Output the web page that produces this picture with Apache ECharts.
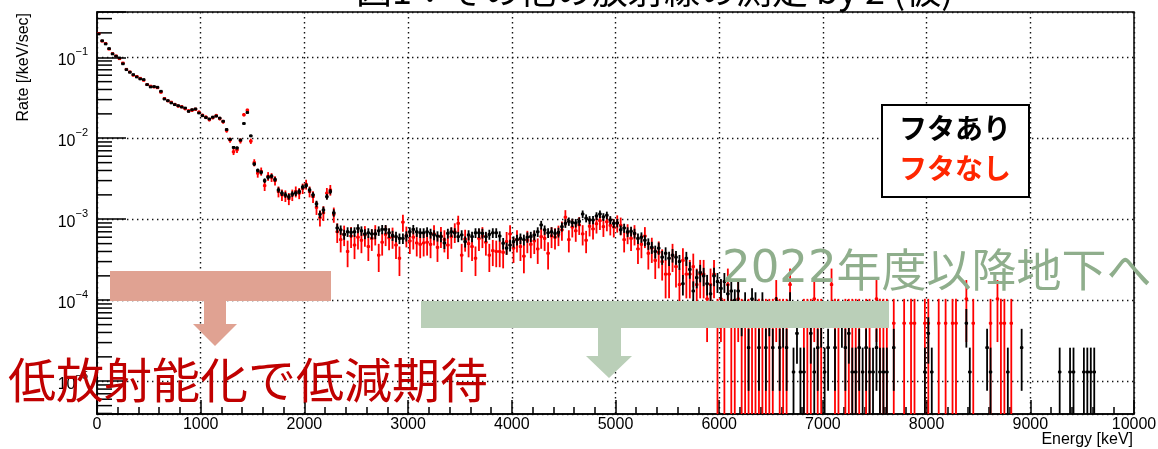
<!DOCTYPE html>
<html><head><meta charset="utf-8">
<script src="https://cdn.jsdelivr.net/npm/echarts@6/dist/echarts.min.js"></script>
<style>html,body{margin:0;padding:0;background:#fff}#c{width:1158px;height:449px}</style>
</head><body><div id="c"></div>
<script>
// ---------------- data ----------------
const BIN_WIDTH = 10000 / 300;          // keV per bin
const X_MIN = 0, X_MAX = 10000, X_STEP = 1000;
const Y_MIN = 3.94e-6, Y_MAX = 0.362;
const Y_LABEL_EXPONENTS = [-5, -4, -3, -2, -1];
const Y_MINOR_MULTIPLIERS = [2, 3, 4, 5, 6, 7, 8, 9];
const Y_MINOR_DECADES = [-6, -5, -4, -3, -2, -1];
const SERIES_NAMES = ['フタあり', 'フタなし'];
const UNIT_WITH_LID = 1.3e-5;     // rate of one count per bin
const UNIT_WITHOUT_LID = 5.2e-5;

// rate per 33.3 keV bin (null = empty bin)
const withLid = [
0.194,0.160,0.146,0.128,0.110,0.103,0.098,0.083,0.0703,0.0653,
0.061,0.0571,0.054,0.053,0.0459,0.043,0.0434,0.0426,0.038,0.0305,
0.0291,0.0273,0.026,0.0252,0.0243,0.0236,0.0215,0.0225,0.023,0.0205,
0.019,0.018,0.0173,0.0182,0.0188,0.0177,0.0162,0.0128,0.0097,0.0077,
0.0076,0.0095,0.0152,0.0208,0.0107,0.0048,0.0040,0.0038,0.0030,0.0033,
0.0034,0.0031,0.0023,0.0021,0.0020,0.0019,0.00205,0.0021,0.0022,0.0025,
0.0026,0.0023,0.0020,0.00155,0.00115,0.0013,0.0019,0.0022,0.0012,7.8e-4,
7.4e-4,6.5e-4,7.0e-4,6.9e-4,7.0e-4,7.7e-4,7.2e-4,6.6e-4,6.8e-4,6.6e-4,
6.6e-4,7.2e-4,7.5e-4,7.5e-4,6.8e-4,6.3e-4,6.1e-4,5.8e-4,5.8e-4,6.2e-4,
7.0e-4,7.5e-4,7.0e-4,6.8e-4,6.8e-4,7.0e-4,6.7e-4,6.4e-4,6.2e-4,6.1e-4,
5.1e-4,6.7e-4,7.0e-4,6.8e-4,6.1e-4,6.4e-4,5.3e-4,6.4e-4,6.1e-4,6.8e-4,
6.8e-4,6.7e-4,6.1e-4,6.5e-4,6.8e-4,6.8e-4,6.2e-4,5.05e-4,4.4e-4,4.8e-4,
5.3e-4,5.6e-4,5.8e-4,5.6e-4,6.0e-4,6.1e-4,6.4e-4,7.0e-4,8.5e-4,7.4e-4,
6.8e-4,7.0e-4,6.7e-4,6.9e-4,8.1e-4,8.9e-4,9.4e-4,9.1e-4,9.0e-4,9.4e-4,
1.16e-3,1.03e-3,9.8e-4,9.8e-4,1.1e-3,1.16e-3,1.07e-3,1.12e-3,9.8e-4,8.9e-4,
9.0e-4,7.4e-4,7.8e-4,7.0e-4,7.1e-4,6.7e-4,5.8e-4,6.0e-4,5.5e-4,5.0e-4,
4.5e-4,4.0e-4,4.4e-4,3.4e-4,3.8e-4,3.3e-4,3.6e-4,3.4e-4,3.0e-4,1.6e-4,
3.3e-4,2.4e-4,1.3e-4,1.9e-4,2.2e-4,2.0e-4,1.6e-4,1.2e-4,2.0e-4,1.7e-4,
1.4e-4,1.7e-4,1.2e-4,1.3e-4,1.0e-4,1.3e-4,6.5e-5,9.1e-5,2.6e-5,1.04e-4,
9.1e-5,2.6e-5,9.1e-5,2.6e-5,6.5e-5,2.6e-5,7.8e-5,2.6e-5,5.2e-5,2.6e-5,
9.1e-5,1.3e-5,3.9e-5,1.3e-5,1.3e-5,null,3.9e-5,1.3e-5,2.6e-5,5.2e-5,
1.3e-5,2.6e-5,null,2.6e-5,null,5.2e-5,2.6e-5,3.9e-5,1.3e-5,1.3e-5,
2.6e-5,1.3e-5,2.6e-5,1.3e-5,1.3e-5,2.6e-5,1.3e-5,1.3e-5,1.3e-5,null,
2.6e-5,null,null,null,null,null,null,null,null,1.3e-5,
3.9e-5,1.3e-5,null,null,null,null,null,null,null,null,
null,5.2e-5,1.3e-5,null,null,null,null,2.6e-5,1.3e-5,null,
null,null,null,1.3e-5,null,null,null,2.6e-5,null,null,
null,null,null,null,null,null,null,null,1.3e-5,null,
null,1.3e-5,1.3e-5,null,null,1.3e-5,1.3e-5,1.3e-5,1.3e-5,null,
null,null,null,null,null,null,null,null,null,null
];
const withoutLid = [
0.196,0.158,0.148,0.126,0.111,0.104,0.096,0.085,0.071,0.066,
0.060,0.058,0.055,0.052,0.046,0.044,0.043,0.042,0.037,0.031,
0.029,0.0278,0.0262,0.0250,0.0245,0.0232,0.0218,0.0222,0.0228,0.0210,
0.0192,0.0182,0.0170,0.0180,0.0190,0.0175,0.0160,0.0125,0.0095,0.0068,
0.0072,0.0093,0.0195,0.0222,0.0092,0.0050,0.0037,0.0039,0.0026,0.0034,
0.0033,0.0030,0.0022,0.0020,0.00195,0.0018,0.0020,0.0022,0.0021,0.0024,
0.0027,0.0022,0.0019,0.0014,0.00105,0.0012,0.0021,0.0023,0.00115,7.0e-4,
5.6e-4,6.5e-4,4.0e-4,6.2e-4,4.8e-4,6.0e-4,5.5e-4,6.4e-4,4.6e-4,5.8e-4,
6.6e-4,3.6e-4,5.2e-4,6.5e-4,5.9e-4,6.1e-4,4.8e-4,3.3e-4,9.2e-4,6.3e-4,
5.4e-4,6.0e-4,5.1e-4,4.9e-4,5.1e-4,5.2e-4,4.9e-4,6.6e-4,4.5e-4,6.2e-4,
5.6e-4,4.8e-4,6.1e-4,7.0e-4,8.9e-4,3.6e-4,5.7e-4,5.0e-4,4.6e-4,3.3e-4,
5.8e-4,6.2e-4,5.2e-4,3.6e-4,4.1e-4,4.0e-4,4.0e-4,3.9e-4,5.3e-4,6.6e-4,
4.4e-4,5.6e-4,4.6e-4,3.5e-4,5.5e-4,4.9e-4,5.4e-4,4.3e-4,6.1e-4,5.8e-4,
3.8e-4,6.2e-4,6.0e-4,6.5e-4,7.4e-4,1.06e-3,5.6e-4,8.0e-4,7.2e-4,8.5e-4,
6.6e-4,5.5e-4,8.2e-4,7.6e-4,8.8e-4,9.6e-4,8.1e-4,9.3e-4,8.4e-4,8.0e-4,
9.0e-4,8.4e-4,5.6e-4,6.8e-4,5.8e-4,6.6e-4,4.3e-4,4.9e-4,6.2e-4,3.8e-4,
4.4e-4,3.1e-4,3.9e-4,3.0e-4,2.1e-4,2.1e-4,3.6e-4,2.6e-4,1.56e-4,3.1e-4,
2.1e-4,2.1e-4,2.6e-4,1.56e-4,2.1e-4,2.1e-4,1.04e-4,1.56e-4,2.1e-4,5.2e-5,
1.04e-4,5.2e-5,1.56e-4,5.2e-5,5.2e-5,1.04e-4,5.2e-5,5.2e-5,5.2e-5,5.2e-5,
5.2e-5,5.2e-5,5.2e-5,5.2e-5,5.2e-5,5.2e-5,1.04e-4,5.2e-5,5.2e-5,5.2e-5,
1.56e-4,null,null,null,5.2e-5,5.2e-5,5.2e-5,1.04e-4,5.2e-5,5.2e-5,
null,null,1.56e-4,5.2e-5,5.2e-5,null,5.2e-5,5.2e-5,5.2e-5,5.2e-5,
5.2e-5,null,5.2e-5,5.2e-5,null,1.04e-4,5.2e-5,5.2e-5,5.2e-5,null,
5.2e-5,null,null,5.2e-5,null,5.2e-5,5.2e-5,null,null,5.2e-5,
5.2e-5,null,null,5.2e-5,null,5.2e-5,null,5.2e-5,5.2e-5,null,
null,1.04e-4,null,5.2e-5,null,null,null,null,5.2e-5,null,
1.04e-4,5.2e-5,5.2e-5,null,5.2e-5,null,null,null,null,null,
null,null,null,null,null,null,null,null,null,null,
null,null,null,null,null,null,null,null,null,null,
null,null,null,null,null,null,null,null,null,null
];

// ---------------- chart ----------------
const yMinorTicks = [];
Y_MINOR_DECADES.forEach(d => Y_MINOR_MULTIPLIERS.forEach(m => {
  const v = m * Math.pow(10, d);
  if (v > Y_MIN && v < Y_MAX) yMinorTicks.push([0, v]);
}));

function toPoints(values, unit) {
  const out = [];
  values.forEach((v, i) => {
    if (v != null) out.push([(i + 0.5) * BIN_WIDTH, v, Math.sqrt(v * unit)]);
  });
  return out;
}

function errRenderer(color, lw) {
  return function (params, api) {
    const x = api.value(0), v = api.value(1), e = api.value(2);
    const c = api.coord([x, v]);
    const xl = api.coord([x - BIN_WIDTH / 2, v])[0];
    const xr = api.coord([x + BIN_WIDTH / 2, v])[0];
    const yt = api.coord([x, v + e])[1];
    const yb = (v - e) > Y_MIN ? api.coord([x, v - e])[1] : api.coord([x, Y_MIN])[1];
    return {
      type: 'group', children: [
        { type: 'line', shape: { x1: c[0], y1: yt, x2: c[0], y2: yb }, style: { stroke: color, lineWidth: lw } },
        { type: 'line', shape: { x1: xl, y1: c[1], x2: xr, y2: c[1] }, style: { stroke: color, lineWidth: lw } },
        { type: 'rect', shape: { x: c[0] - 1.4, y: c[1] - 1.4, width: 2.8, height: 2.8 }, style: { fill: color } }
      ]
    };
  };
}

const chart = echarts.init(document.getElementById('c'), null, { renderer: 'canvas' });
const FONT = 'Liberation Sans, Arial, sans-serif';
const JP = 'Noto Sans CJK JP, sans-serif';

chart.setOption({
  animation: false,
  backgroundColor: '#fff',
  grid: { left: 97, right: 24, top: 12, bottom: 35, show: true, borderColor: '#000', borderWidth: 1.5, outerBoundsMode: 'none', containLabel: false },
  legend: {
    left: 882, top: 105, orient: 'vertical', icon: 'none', itemWidth: 0, itemGap: 8,
    padding: [7, 18, 13, 12], borderColor: '#000', borderWidth: 2, backgroundColor: '#fff',
    selectedMode: false,
    textStyle: { fontSize: 28, fontWeight: 'bold', fontFamily: JP, lineHeight: 32 },
    data: [
      { name: SERIES_NAMES[0], textStyle: { color: '#000' } },
      { name: SERIES_NAMES[1], textStyle: { color: '#ff2600' } }
    ]
  },
  xAxis: {
    type: 'value', min: X_MIN, max: X_MAX, interval: X_STEP,
    axisLine: { show: true, lineStyle: { color: '#000', width: 1.5 } },
    axisTick: { show: true, inside: true, length: 14, lineStyle: { color: '#000', width: 1.5 } },
    minorTick: { show: true, splitNumber: 5, length: 7, lineStyle: { color: '#000', width: 1.5 } },
    axisLabel: { color: '#000', fontSize: 16, fontFamily: FONT, margin: 3, showMaxLabel: true,
      formatter: function (v) { return String(v); } },
    splitLine: { show: true, lineStyle: { color: '#111', width: 1.4, type: [1.4, 3.6] } }
  },
  yAxis: {
    type: 'log', logBase: 10, min: Y_MIN, max: Y_MAX,
    axisLine: { show: true, lineStyle: { color: '#000', width: 1.5 } },
    axisTick: { show: true, inside: true, length: 29, lineStyle: { color: '#000', width: 1.5 } },
    axisLabel: {
      margin: 9, color: '#000', fontFamily: FONT,
      formatter: function (v) {
        const ex = Math.round(Math.log10(v));
        if (Y_LABEL_EXPONENTS.indexOf(ex) < 0 || Math.abs(Math.log10(v) - ex) > 1e-6) return '';
        return '{b|10}{s|−' + Math.abs(ex) + '}';
      },
      rich: {
        b: { fontSize: 16, fontFamily: FONT, color: '#000', lineHeight: 22, verticalAlign: 'bottom' },
        s: { fontSize: 11, fontFamily: FONT, color: '#000', lineHeight: 22, verticalAlign: 'top' }
      }
    },
    splitLine: { show: true, lineStyle: { color: '#111', width: 1.4, type: [1.4, 3.6] } }
  },
  graphic: [
    { type: 'text', z: 100, x: 24, y: 13, rotation: Math.PI / 2,
      style: { text: 'Rate [/keV/sec]', fontSize: 16, fontFamily: FONT, fill: '#000', align: 'right', verticalAlign: 'middle' } },
    { type: 'text', z: 100, x: 1133, y: 440,
      style: { text: 'Energy [keV]', fontSize: 16, fontFamily: FONT, fill: '#000', align: 'right', verticalAlign: 'middle' } },
    { type: 'text', z: 100, x: 356, y: 8,
      style: { text: '図1：その他の放射線の測定 by 2 (仮)', fontSize: 36, fontFamily: JP, fill: '#000', align: 'left', verticalAlign: 'bottom' } },
    { type: 'polygon', z: 100,
      shape: { points: [[110,271],[331,271],[331,301],[226,301],[226,324],[237,324],[215,346],[193,324],[204,324],[204,301],[110,301]] },
      style: { fill: '#e0a292' } },
    { type: 'polygon', z: 100,
      shape: { points: [[421,301],[889,301],[889,328],[621,328],[621,356],[632,356],[609,378],[586,356],[598,356],[598,328],[421,328]] },
      style: { fill: '#bacfb8' } },
    { type: 'text', z: 101, x: 8, y: 380,
      style: { text: '低放射能化で低減期待', fontSize: 48, fontFamily: JP, fill: '#c00000', align: 'left', verticalAlign: 'middle' } },
    { type: 'text', z: 101, x: 722, y: 270,
      style: { text: '{d|2022}{j|年度以降地下へ}', align: 'left', verticalAlign: 'middle',
        rich: { d: { fontSize: 45, fontFamily: 'DejaVu Sans, sans-serif', fill: '#8fae8c' },
                j: { fontSize: 45, fontFamily: JP, fill: '#8fae8c' } } } }
  ],
  series: [
    { type: 'custom', name: 'yMinorTicks', silent: true, clip: true, z: 3,
      data: yMinorTicks, encode: { x: 0, y: 1 },
      renderItem: function (params, api) {
        const c = api.coord([0, api.value(1)]);
        return { type: 'line', shape: { x1: c[0], y1: c[1], x2: c[0] + 15, y2: c[1] }, style: { stroke: '#000', lineWidth: 1.5 } };
      } },
    { type: 'custom', name: SERIES_NAMES[1], clip: true, z: 4, silent: true,
      data: toPoints(withoutLid, UNIT_WITHOUT_LID), encode: { x: 0, y: 1 },
      renderItem: errRenderer('#ff0000', 1.8) },
    { type: 'custom', name: SERIES_NAMES[0], clip: true, z: 5, silent: true,
      data: toPoints(withLid, UNIT_WITH_LID), encode: { x: 0, y: 1 },
      renderItem: errRenderer('#000000', 1.8) }
  ]
});
</script></body></html>
